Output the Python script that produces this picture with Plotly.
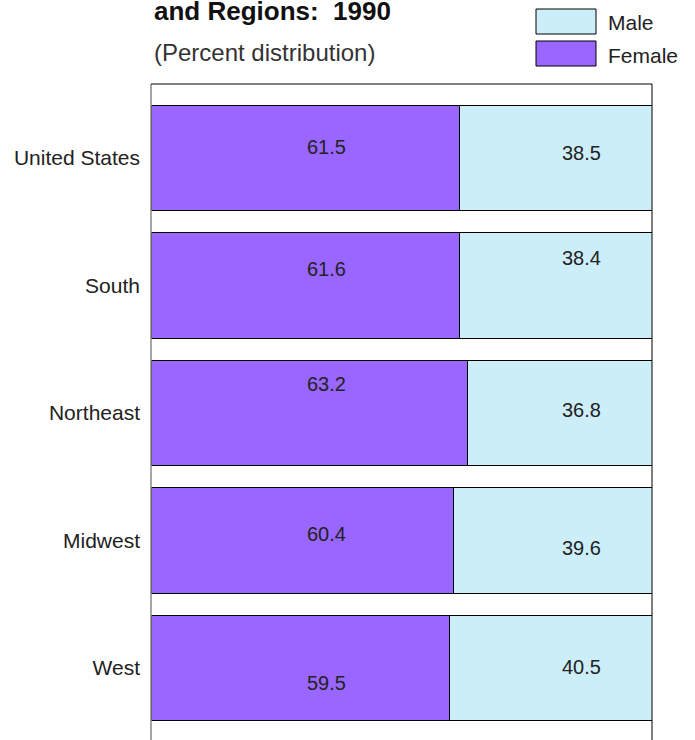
import plotly.graph_objects as go

# Data
regions = ['United States', 'South', 'Northeast', 'Midwest', 'West']
female = [61.5, 61.6, 63.2, 60.4, 59.5]
male = [38.5, 38.4, 36.8, 39.6, 40.5]

# vertical nudges (px) of the value labels, as placed in the original
female_dy = [11, 16, 29, 6, -15]
male_dy = [5, 27, 3, -8, 1]

PURPLE = '#9966FF'
CYAN = '#CCEEF8'
TXT = '#222222'
FONT = 'Liberation Sans, Arial, sans-serif'

fig = go.Figure()
fig.add_trace(go.Bar(y=regions, x=female, orientation='h', name='Female',
                     marker=dict(color=PURPLE, line=dict(color='black', width=1)),
                     width=0.83, hoverinfo='x+y'))
fig.add_trace(go.Bar(y=regions, x=male, orientation='h', name='Male',
                     marker=dict(color=CYAN, line=dict(color='black', width=1)),
                     width=0.83, hoverinfo='x+y'))

# value labels
for r, f, m, df, dm in zip(regions, female, male, female_dy, male_dy):
    fig.add_annotation(x=35.1, y=r, text=f'{f:.1f}', showarrow=False, yshift=df,
                       font=dict(size=20, color=TXT, family=FONT))
    fig.add_annotation(x=86.0, y=r, text=f'{m:.1f}', showarrow=False, yshift=dm,
                       font=dict(size=20, color=TXT, family=FONT))

# frame: left (grey), top and right (black); bottom runs off the page
fig.add_shape(type='line', xref='paper', yref='paper', x0=0, x1=0, y0=0, y1=1,
              line=dict(color='#888888', width=1.5))
fig.add_shape(type='line', xref='paper', yref='paper', x0=0, x1=1, y0=1, y1=1,
              line=dict(color='black', width=1))
fig.add_shape(type='line', xref='paper', yref='paper', x0=1, x1=1, y0=0, y1=1,
              line=dict(color='black', width=1))

# convert page px to paper coords (body margin is removed below)
W = 501.0
H = 656.0
def px_x(p):
    return (p - 151) / W
def px_y(p):
    return (740 - p) / H

# hand-drawn legend (top right)
for (label, col, top) in [('Male', CYAN, 9), ('Female', PURPLE, 41)]:
    fig.add_shape(type='rect', xref='paper', yref='paper',
                  x0=px_x(536), x1=px_x(596), y0=px_y(top + 25), y1=px_y(top),
                  fillcolor=col, line=dict(color='black', width=1))
    fig.add_annotation(xref='paper', yref='paper', x=px_x(606), y=px_y(top + 14),
                       text=label, showarrow=False, xanchor='left', yanchor='middle',
                       font=dict(size=21, color=TXT, family=FONT))

# title (top line is cut off in the source) and subtitle
fig.add_annotation(xref='paper', yref='paper', x=px_x(152), y=px_y(11),
                   text='<b>and Regions:  1990</b>', showarrow=False,
                   xanchor='left', yanchor='middle',
                   font=dict(size=26, color='#111111', family=FONT))
fig.add_annotation(xref='paper', yref='paper', x=px_x(152), y=px_y(53),
                   text='(Percent distribution)', showarrow=False,
                   xanchor='left', yanchor='middle',
                   font=dict(size=24, color='#333333', family=FONT))

fig.update_layout(
    barmode='stack',
    width=695, height=740,
    margin=dict(l=151, r=43, t=84, b=0),
    paper_bgcolor='white', plot_bgcolor='white',
    showlegend=False,
    font=dict(family=FONT, color=TXT),
)
fig.update_xaxes(range=[0, 100], showgrid=False, zeroline=False,
                 showticklabels=False, ticks='')
fig.update_yaxes(range=[4.565, -0.58], showgrid=False, zeroline=False,
                 ticks='', ticklabelstandoff=10,
                 tickfont=dict(size=21, color=TXT, family=FONT))

fig.write_html("out.html", config={'displayModeBar': False},
               post_script="document.body.style.margin='0';document.body.style.overflow='hidden';")
